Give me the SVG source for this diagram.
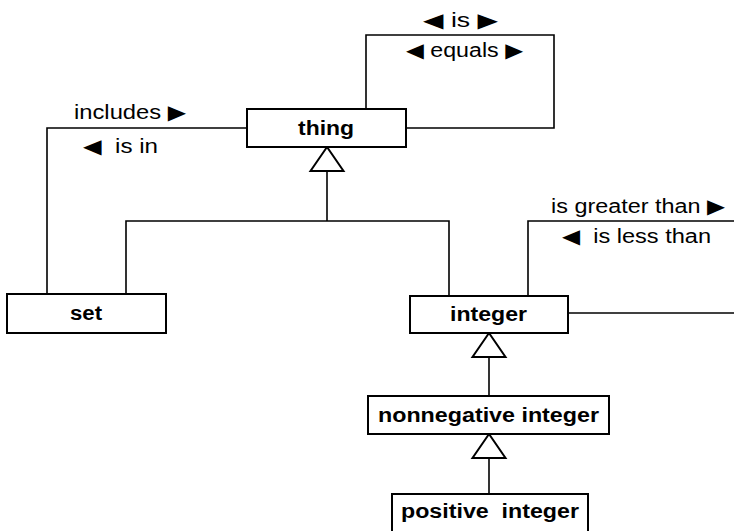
<svg xmlns="http://www.w3.org/2000/svg" width="734" height="531" viewBox="0 0 734 531">
<style>
.box{fill:#fff;stroke:#000;stroke-width:2}
.ln{fill:none;stroke:#000;stroke-width:1.6}
.tri{fill:#fff;stroke:#000;stroke-width:2}
.nt{font-family:"Liberation Sans",Arial,sans-serif;font-weight:bold;font-size:20px;fill:#000}
.lb{font-family:"Liberation Sans","DejaVu Sans",Arial,sans-serif;font-size:20px;fill:#000}
</style>
<rect width="734" height="531" fill="#fff"/>
<g id="connectors">
<polyline class="ln" points="366,109 366,35 554,35 554,128 406,128"/>
<polyline class="ln" points="247,128 47,128 47,294"/>
<polyline class="ln" points="327,171 327,221"/>
<polyline class="ln" points="126,294 126,221 449,221 449,296"/>
<polyline class="ln" points="528,296 528,221 734,221"/>
<polyline class="ln" points="568,313 734,313"/>
<polyline class="ln" points="489,357 489,396"/>
<polyline class="ln" points="489,458 489,494"/>
<polygon class="tri" points="327,147 310.5,171 343.5,171"/>
<polygon class="tri" points="489,333 472.5,357 505.5,357"/>
<polygon class="tri" points="489,434 472.5,458 505.5,458"/>
<text class="lb" x="423" y="27" textLength="75" lengthAdjust="spacingAndGlyphs">◀ is ▶</text>
<text class="lb" x="406" y="57" textLength="117" lengthAdjust="spacingAndGlyphs">◀ equals ▶</text>
<text class="lb" x="74" y="119" textLength="112" lengthAdjust="spacingAndGlyphs">includes ▶</text>
<text class="lb" x="83" y="153" textLength="75" lengthAdjust="spacingAndGlyphs" xml:space="preserve">◀  is in</text>
<text class="lb" x="551" y="213" textLength="174" lengthAdjust="spacingAndGlyphs">is greater than ▶</text>
<text class="lb" x="562" y="243" textLength="149" lengthAdjust="spacingAndGlyphs" xml:space="preserve">◀  is less than</text>
</g>
<g id="thing">
<rect class="box" x="247" y="109" width="159" height="38"/>
<text class="nt" x="298" y="135" textLength="56" lengthAdjust="spacingAndGlyphs">thing</text>
</g>
<g id="set">
<rect class="box" x="7" y="294" width="159" height="39"/>
<text class="nt" x="70" y="320" textLength="32" lengthAdjust="spacingAndGlyphs">set</text>
</g>
<g id="integer">
<rect class="box" x="410" y="296" width="158" height="37"/>
<text class="nt" x="450" y="321" textLength="77" lengthAdjust="spacingAndGlyphs">integer</text>
</g>
<g id="nonnegative_integer">
<rect class="box" x="368" y="396" width="241" height="38"/>
<text class="nt" x="378" y="422" textLength="221" lengthAdjust="spacingAndGlyphs">nonnegative integer</text>
</g>
<g id="positive_integer">
<rect class="box" x="392" y="494" width="196" height="46"/>
<text class="nt" x="401" y="518" textLength="178" lengthAdjust="spacingAndGlyphs" xml:space="preserve">positive  integer</text>
</g>
</svg>
